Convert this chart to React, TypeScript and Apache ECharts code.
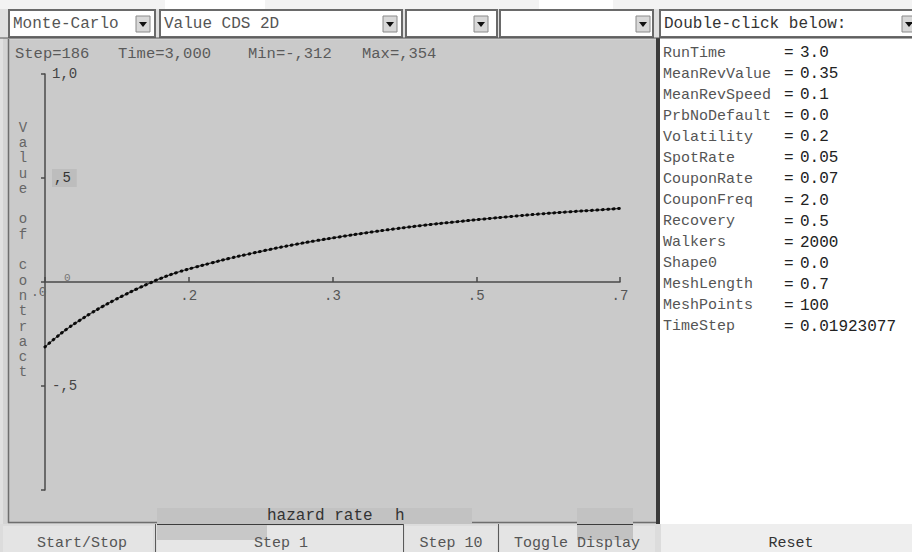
import React, { useEffect, useRef } from "react";
import * as echarts from "echarts";

// ---- data ----
const hazardRate = [
  0.0, 0.014, 0.028, 0.042, 0.056, 0.07, 0.084, 0.098, 0.112, 0.126, 0.14,
  0.161, 0.182, 0.203, 0.224, 0.245, 0.273, 0.301, 0.329, 0.357, 0.392,
  0.427, 0.462, 0.497, 0.532, 0.567, 0.602, 0.637, 0.672, 0.7,
];
const contractValue = [
  -0.312, -0.265, -0.222, -0.185, -0.15, -0.118, -0.088, -0.06, -0.033,
  -0.008, 0.016, 0.046, 0.07, 0.092, 0.113, 0.132, 0.156, 0.178, 0.198,
  0.216, 0.237, 0.256, 0.273, 0.288, 0.302, 0.315, 0.327, 0.337, 0.346,
  0.354,
];
const xTickLabels = ["", ".2", ".3", ".5", ".7"];
const yTickLabels = ["", "-,5", "", ",5", "1,0"];
const headerTexts = ["Step=186", "Time=3,000", "Min=-,312", "Max=,354"];
const yAxisTitle = "Value of contract";
const xAxisTitle = ["hazard rate", "h"];
const comboTexts = ["Monte-Carlo", "Value CDS 2D", "", "", "Double-click below:"];
const paramNames = [
  "RunTime", "MeanRevValue", "MeanRevSpeed", "PrbNoDefault", "Volatility",
  "SpotRate", "CouponRate", "CouponFreq", "Recovery", "Walkers", "Shape0",
  "MeshLength", "MeshPoints", "TimeStep",
];
const paramValues = [
  "3.0", "0.35", "0.1", "0.0", "0.2", "0.05", "0.07", "2.0", "0.5", "2000",
  "0.0", "0.7", "100", "0.01923077",
];
const buttonTexts = ["Start/Stop", "Step 1", "Step 10", "Toggle Display", "Reset"];

const MONO = "'Liberation Mono', 'Courier New', monospace";

function buildGraphic(): any[] {
  const g: any[] = [];
  const rect = (x: number, y: number, w: number, h: number, style: any, z = -10) =>
    g.push({ type: "rect", shape: { x, y, width: w, height: h }, style, z, silent: true });
  const line = (x1: number, y1: number, x2: number, y2: number, stroke: string, lw = 1, z = -5) =>
    g.push({ type: "line", shape: { x1, y1, x2, y2 }, style: { stroke, lineWidth: lw }, z, silent: true });
  const text = (x: number, y: number, t: string, fill: string, size = 16, align = "left", z = 20, extra: any = {}) =>
    g.push({
      type: "text", x, y, z, silent: true,
      style: { text: t, fill, font: `${size}px ${MONO}`, textAlign: align, textVerticalAlign: "middle", ...extra },
    });

  // page & panels
  rect(0, 0, 912, 552, { fill: "#e0e0e0" }, -30);
  rect(0, 0, 912, 9, { fill: "#f3f3f3" }, -29);
  rect(165, 0, 100, 11, { fill: "#ffffff" }, -28);
  rect(539, 0, 74, 11, { fill: "#ffffff" }, -28);
  line(165, 11.5, 265, 11.5, "#6d7fa6", 1, -27);
  line(539, 11.5, 613, 11.5, "#6d7fa6", 1, -27);
  rect(3, 38, 654, 486, { fill: "#d3d3d3" }, -25);
  rect(9, 40, 647, 482, { fill: "#cacaca" }, -24);
  line(8.5, 39, 8.5, 523, "#6e6e6e", 1.5, -20);
  line(8, 522.5, 657, 522.5, "#6e6e6e", 1.5, -20);
  rect(656, 38, 4, 486, { fill: "#3a3a3a" }, -20);
  rect(660, 38, 252, 486, { fill: "#ffffff" }, -20);

  // combo boxes
  const combos = [
    [9, 146, 136], [160, 242, 383], [406, 91, 474], [500, 153, 636], [660, 260, 902],
  ];
  combos.forEach(([x, w, bx], i) => {
    rect(x, 10, w, 27, { fill: "#ffffff", stroke: "#6a6a6a", lineWidth: 2 }, -15);
    rect(bx, 16, 14, 16, { fill: "#d8d8d8", stroke: "#8a8a8a", lineWidth: 1 }, -14);
    g.push({
      type: "polygon", z: -13, silent: true,
      shape: { points: [[bx + 3, 22], [bx + 11, 22], [bx + 7, 27]] },
      style: { fill: "#111" },
    });
    if (comboTexts[i]) text(x + 4, 24, comboTexts[i], i === 4 ? "#333" : "#555", 16);
  });
  line(0, 38, 912, 38, "#555", 1.2, -12);

  // header texts inside plot
  const headerX = [15, 118, 248, 362];
  headerTexts.forEach((t, i) => text(headerX[i], 54, t, "#5a5a5a", 15.5));

  // vertical y-axis title
  text(23, 120, yAxisTitle.split("").join("\n"), "#666", 14, "center", 20, {
    textVerticalAlign: "top", lineHeight: 15.3,
  });

  // zero labels near origin
  text(64, 278, "0", "#777", 11);
  text(31, 292, ".0", "#666", 13);

  // parameter list
  paramNames.forEach((n, i) => {
    const y = 53.3 + i * 21.03;
    text(663, y, n, "#555", 15);
    text(784, y, "=", "#222", 16);
    text(800, y, paramValues[i], "#222", 16);
  });

  // bottom buttons row
  rect(0, 524, 912, 28, { fill: "#dcdcdc" }, -15);
  rect(3, 526, 150, 26, { fill: "#e4e4e4" }, -14);
  rect(157, 526, 246, 26, { fill: "#e6e6e6" }, -14);
  rect(405, 526, 92, 26, { fill: "#e4e4e4" }, -14);
  rect(500, 526, 155, 26, { fill: "#e4e4e4" }, -14);
  rect(661, 524, 251, 28, { fill: "#eeeeee" }, -14);
  line(155.5, 524, 155.5, 552, "#5a5a5a", 1, -13);
  line(403.5, 524, 403.5, 552, "#5a5a5a", 1, -13);
  line(498.5, 524, 498.5, 552, "#5a5a5a", 1, -13);

  // textured strip with x-axis title
  rect(157, 508, 315, 16, { fill: "#c2c2c2" }, 10);
  rect(157, 525, 110, 15, { fill: "#c8c8c8" }, 10);
  rect(577, 508, 56, 32, { fill: "#c2c2c2" }, 10);
  line(157, 524.5, 403, 524.5, "#3c3c3c", 1.2, 11);
  line(577, 524.5, 633, 524.5, "#3c3c3c", 1.2, 11);
  text(267, 516, xAxisTitle[0], "#333", 16);
  text(395, 516, xAxisTitle[1], "#333", 16);

  const btnX = [82, 281, 451, 577, 791];
  buttonTexts.forEach((t, i) => text(btnX[i], 543, t, i === 4 ? "#333" : "#555", 15, "center"));
  return g;
}

export default function App() {
  const ref = useRef<HTMLDivElement>(null);
  useEffect(() => {
    document.body.style.margin = "0";
    const chart = echarts.init(ref.current!, null, { renderer: "svg" });
    const pts = hazardRate.map((h, i) => [h, contractValue[i]]);
    chart.setOption({
      animation: false,
      backgroundColor: "transparent",
      grid: { left: 45, top: 74, width: 575, height: 416, containLabel: false },
      xAxis: {
        type: "value", min: 0, max: 0.7, interval: 0.175,
        axisLine: { onZero: true, lineStyle: { color: "#4a4a4a", width: 1.5 } },
        axisTick: { show: true, inside: true, length: 5, lineStyle: { color: "#4a4a4a", width: 1.5 } },
        splitLine: { show: false },
        axisLabel: {
          margin: -201, color: "#555", fontFamily: MONO, fontSize: 14,
          formatter: (_v: number, idx: number) => xTickLabels[idx] ?? "",
        },
      },
      yAxis: {
        type: "value", min: -1, max: 1, interval: 0.5,
        axisLine: { onZero: true, lineStyle: { color: "#4a4a4a", width: 1.5 } },
        axisTick: { show: true, length: 4, lineStyle: { color: "#4a4a4a", width: 1.5 } },
        splitLine: { show: false },
        axisLabel: {
          inside: true, margin: 7, color: "#444", fontFamily: MONO, fontSize: 14,
          formatter: (_v: number, idx: number) =>
            idx === 3 ? `{box|${yTickLabels[idx]}}` : yTickLabels[idx] ?? "",
          rich: {
            box: {
              fontFamily: MONO, fontSize: 14, color: "#333",
              backgroundColor: "#bdbdbd", padding: [2, 6, 2, 2],
            },
          },
        },
      },
      graphic: buildGraphic(),
      series: [
        {
          type: "line", data: pts, smooth: true, showSymbol: false, silent: true, z: 3,
          lineStyle: { color: "#3a3a3a", width: 1.2 },
        },
        {
          type: "line", data: pts, smooth: true, showSymbol: false, silent: true, z: 4,
          lineStyle: { color: "#0a0a0a", width: 3, type: [0.8, 4.6], cap: "round" },
        },
      ],
    });
    return () => chart.dispose();
  }, []);
  return (
    <div
      ref={ref}
      style={{ position: "absolute", left: 0, top: 0, width: 912, height: 552 }}
    />
  );
}
